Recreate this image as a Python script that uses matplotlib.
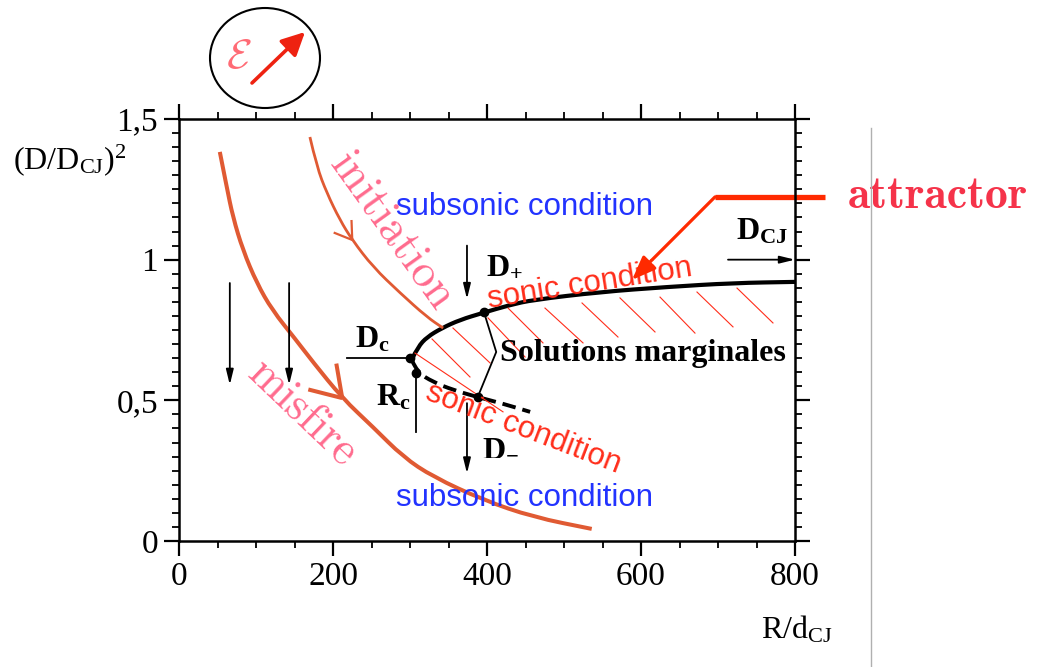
import numpy as np
import matplotlib.pyplot as plt
from matplotlib.patches import Ellipse, PathPatch
from matplotlib.path import Path
from matplotlib.lines import Line2D
from matplotlib.ticker import MultipleLocator, FixedLocator, FixedFormatter

plt.rcParams['font.family'] = 'Liberation Serif'
plt.rcParams['mathtext.fontset'] = 'custom'
plt.rcParams['mathtext.rm'] = 'Liberation Serif'
plt.rcParams['mathtext.it'] = 'Liberation Serif:italic'
plt.rcParams['mathtext.bf'] = 'Liberation Serif:bold'

# solution branches: D+ (solid, stable) and D- (dashed)
r_plus = [302.6, 310.4, 322.1, 341.6, 364.9, 394.8, 429.9, 459.7, 546.8, 633.8, 719.5, 800]
d_plus = [0.647, 0.690, 0.725, 0.757, 0.786, 0.811, 0.839, 0.857, 0.885, 0.903, 0.917, 0.921]
r_minus = [303, 309, 330, 356, 387, 417, 456]
d_minus = [0.640, 0.601, 0.565, 0.537, 0.512, 0.491, 0.459]

# trajectories
r_misfire = [53, 62, 70, 83, 101, 121, 151, 174, 212, 252, 291, 330, 395, 460, 536]
d_misfire = [1.383, 1.258, 1.152, 1.034, 0.917, 0.821, 0.718, 0.636, 0.508, 0.405, 0.299, 0.228, 0.146, 0.085, 0.043]
r_init = [170, 179, 192, 209, 225, 252, 287, 322, 343]
d_init = [1.436, 1.330, 1.237, 1.141, 1.070, 0.974, 0.882, 0.796, 0.757]

# marked points: Dc, Rc, D+, D-
pts_r = [300, 308, 396, 388]
pts_d = [0.65, 0.597, 0.814, 0.512]

# hatch strokes (start r, start d, end r, end d)
hatch_r0 = [306.5, 328.6, 355.8, 401.3, 427.3, 475.3, 523.4, 572.7, 624.7, 672.7, 724.7]
hatch_d0 = [0.668, 0.718, 0.757, 0.793, 0.828, 0.828, 0.846, 0.864, 0.867, 0.885, 0.899]
hatch_r1 = [420.8, 377.9, 403.9, 449.4, 472.7, 524.7, 570.1, 618.2, 670.1, 719.5, 771.4]
hatch_d1 = [0.459, 0.583, 0.633, 0.654, 0.704, 0.704, 0.725, 0.743, 0.739, 0.761, 0.775]

# vertical arrows (r, from, to)
arrows_r = [66, 143, 374, 374]
arrows_from = [0.917, 0.917, 1.05, 0.49]
arrows_to = [0.555, 0.555, 0.86, 0.24]

yticks = [0, 0.5, 1, 1.5]
ytick_labels = ['0', '0,5', '1', '1,5']
xticks = [0, 200, 400, 600, 800]

orange = '#E05A33'
pink = '#FF6B8E'
blue = '#2233FF'
red = '#FF2D1A'

fig = plt.figure(figsize=(10.37, 6.67), dpi=100)
ax = fig.add_axes([179/1037, 126/667, 616/1037, 422/667])
ax.set_xlim(0, 800)
ax.set_ylim(0, 1.5)

ax.xaxis.set_major_locator(FixedLocator(xticks))
ax.xaxis.set_minor_locator(MultipleLocator(50))
ax.yaxis.set_major_locator(FixedLocator(yticks))
ax.yaxis.set_major_formatter(FixedFormatter(ytick_labels))
ax.yaxis.set_minor_locator(MultipleLocator(0.05))
ax.tick_params(which='both', direction='out', top=True, right=True, labelsize=24, pad=4)
ax.tick_params(which='major', length=11, width=1.6)
ax.tick_params(which='minor', length=5, width=1.3)
for s in ax.spines.values():
    s.set_linewidth(1.8)

ax.set_ylabel(r'$\mathrm{(D/D_{CJ})^{2}}$', fontsize=23, rotation=0, ha='center', va='center')
ax.yaxis.set_label_coords(-0.177, 0.903)
ax.set_xlabel(r'$\mathrm{R/d_{CJ}}$', fontsize=23, ha='center', va='center')
ax.xaxis.set_label_coords(1.003, -0.211)


def smooth(rr, dd, **kw):
    # quadratic bezier through the midpoints, read points as controls
    verts = [(rr[0], dd[0])]
    codes = [Path.MOVETO]
    for k in range(1, len(rr) - 1):
        verts += [(rr[k], dd[k]), ((rr[k] + rr[k + 1]) / 2, (dd[k] + dd[k + 1]) / 2)]
        codes += [Path.CURVE3, Path.CURVE3]
    verts.append((rr[-1], dd[-1]))
    codes.append(Path.LINETO)
    ax.add_patch(PathPatch(Path(verts, codes), fill=False, **kw))


# hatching between branches
for a, b, c, d in zip(hatch_r0, hatch_d0, hatch_r1, hatch_d1):
    ax.plot([a, c], [b, d], color=red, lw=0.8)

smooth(r_plus, d_plus, ec='k', lw=3, capstyle='butt')
smooth(r_minus, d_minus, ec='k', lw=2.8, linestyle=(0, (3.5, 1.8)))
ax.plot(pts_r, pts_d, 'o', color='k', ms=6)

# trajectories
smooth(r_misfire, d_misfire, ec=orange, lw=2.9)
smooth(r_init, d_init, ec=orange, lw=2.0)


def chevron(rr, dd, i, arm, ang, lw):
    P = ax.transData.transform(np.column_stack([rr, dd]))
    tip = P[i]
    back = P[i - 1] - P[i + 1]
    back = back / np.hypot(*back)
    inv = ax.transData.inverted()
    for s in (1, -1):
        a = np.deg2rad(s * ang)
        rot = np.array([[np.cos(a), -np.sin(a)], [np.sin(a), np.cos(a)]])
        end = inv.transform(tip + arm * rot @ back)
        ax.plot([rr[i], end[0]], [dd[i], end[1]], color=orange, lw=lw, solid_capstyle='butt')


chevron(r_misfire, d_misfire, 8, 35, 33, 2.9)
chevron(r_init, d_init, 4, 20, 33, 1.6)

# vertical arrows
for x, y0, y1 in zip(arrows_r, arrows_from, arrows_to):
    ax.annotate('', xy=(x, y1), xytext=(x, y0),
                arrowprops=dict(arrowstyle='-|>,head_length=0.9,head_width=0.22',
                                color='k', lw=1.3, shrinkA=0, shrinkB=0))

# D_CJ arrow
ax.annotate('', xy=(800, 1.0), xytext=(713, 1.0),
            arrowprops=dict(arrowstyle='-|>,head_length=0.9,head_width=0.22',
                            color='k', lw=1.3, shrinkA=0, shrinkB=0))

# Dc / Rc guides
ax.plot([218, 300], [0.65, 0.65], color='k', lw=1.3)
ax.plot([308, 308], [0.597, 0.387], color='k', lw=1.3)
# connector to marginal solutions
ax.plot([396, 412, 388], [0.814, 0.672, 0.512], color='k', lw=1.3)

lab = dict(fontsize=23, ha='center', va='center')
ax.text(251, 0.715, r'$\mathbf{D_{c}}$', **lab)
ax.text(278, 0.508, r'$\mathbf{R_{c}}$', **lab)
ax.text(423, 0.975, r'$\mathbf{D_{+}}$', **lab)
ax.text(417, 0.334, r'$\mathbf{D_{-}}$', **lab)
ax.text(757, 1.10, r'$\mathbf{D_{CJ}}$', **lab)
ax.text(417, 0.668, 'Solutions marginales', fontsize=23, weight='bold', ha='left', va='center')

sans = dict(family='Liberation Sans', fontsize=22.5, ha='center', va='center', rotation_mode='anchor')
ax.text(449, 1.187, 'subsonic condition', color=blue, **sans)
ax.text(449, 0.153, 'subsonic condition', color=blue, **sans)
ax.text(534, 0.914, 'sonic condition', color=red, rotation=9, **sans)
ax.text(447, 0.400, 'sonic condition', color=red, rotation=-21, **sans)

ax.text(277, 1.10, 'initiation', family='cmr10', fontsize=33, color=pink,
        rotation=-54.3, ha='center', va='center', rotation_mode='anchor')
ax.text(161, 0.455, 'misfire', family='cmr10', fontsize=33, color=pink,
        rotation=-43.6, ha='center', va='center', rotation_mode='anchor')

# attractor pointer
ax.plot([839, 696], [1.223, 1.223], color='#FF2A00', lw=3.8, clip_on=False, solid_capstyle='butt')
ax.annotate('', xy=(588.3, 0.928), xytext=(696.1, 1.223), annotation_clip=False,
            arrowprops=dict(arrowstyle='-|>,head_length=0.9,head_width=0.35', color='#FF2A00',
                            lw=2.3, shrinkA=0, shrinkB=0, mutation_scale=16))
ax.text(985.7, 1.223, 'attractor', family='cmb10', fontsize=33, color='#F5334A',
        ha='center', va='center')

# epsilon badge
fig.add_artist(Ellipse((265/1037, 1 - 58/667), 110/1037, 100/667, transform=fig.transFigure,
                       fill=False, lw=1.5, ec='k'))
fig.text(239/1037, 1 - 58/667, r'$\mathcal{E}$', math_fontfamily='cm', color='#FF6B75',
         fontsize=30, ha='center', va='center')
ax.annotate('', xy=(305, 667 - 32), xytext=(252, 667 - 83), xycoords='figure pixels',
            textcoords='figure pixels', annotation_clip=False,
            arrowprops=dict(arrowstyle='-|>,head_length=1.0,head_width=0.5', color='#EE2211',
                            lw=2.6, shrinkA=0, shrinkB=0, mutation_scale=14))

fig.add_artist(Line2D([871/1037, 871/1037], [0, 1 - 128/667], transform=fig.transFigure,
                      color='#B0B0B0', lw=1))

fig.savefig('out.png', dpi=100)
